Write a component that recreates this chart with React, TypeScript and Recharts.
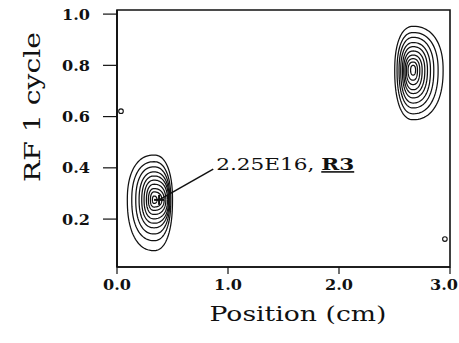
import { ScatterChart, Scatter, XAxis, YAxis, ReferenceLine, ReferenceDot, ReferenceArea, Label } from 'recharts'

const SERIF = '"DejaVu Serif", "Liberation Serif", serif'
const INK = '#111'

const xTicks = [0, 1, 2, 3]
const yTicks = [0.2, 0.4, 0.6, 0.8, 1.0]
const xDomain = [0, 3]
const yDomain = [0.013, 1.016]

// R3 peak near the entrance, outer ring first
const lowCenter = { x: 0.334, y: 0.275 }
const lowLeft = [0.093, 0.133, 0.169, 0.199, 0.223, 0.244, 0.265, 0.283, 0.301, 0.319]
const lowRight = [0.5, 0.485, 0.476, 0.47, 0.464, 0.455, 0.44, 0.425, 0.404, 0.36]
const lowTop = [0.45, 0.424, 0.404, 0.384, 0.368, 0.352, 0.336, 0.319, 0.306, 0.29]
const lowBottom = [0.077, 0.116, 0.142, 0.166, 0.184, 0.201, 0.218, 0.234, 0.247, 0.261]

// second peak near the far end
const highCenter = { x: 2.668, y: 0.781 }
const highLeft = [2.502, 2.523, 2.541, 2.556, 2.571, 2.583, 2.595, 2.607, 2.622, 2.645]
const highRight = [2.938, 2.893, 2.854, 2.824, 2.797, 2.773, 2.749, 2.728, 2.707, 2.69]
const highTop = [0.952, 0.928, 0.909, 0.889, 0.873, 0.856, 0.84, 0.826, 0.813, 0.8]
const highBottom = [0.588, 0.611, 0.634, 0.653, 0.673, 0.69, 0.705, 0.725, 0.742, 0.762]

// isolated single-level spots
const spotX = [0.036, 2.954]
const spotY = [0.621, 0.122]

const noteValue = '2.25E16, '
const noteTag = 'R3'
const noteFrom = { x: 0.867, y: 0.395 }
const noteTo = { x: 0.379, y: 0.275 }

type Pt = { x: number; y: number }

// closed outline through the four read-off extents of one contour level,
// a little squarer than an ellipse
function ring(c: Pt, left: number, right: number, top: number, bottom: number): Pt[] {
  const pts: Pt[] = []
  const n = 96
  const e = 0.88
  for (let k = 0; k <= n; k++) {
    const t = (2 * Math.PI * k) / n
    const cs = Math.cos(t)
    const sn = Math.sin(t)
    const u = Math.sign(cs) * Math.pow(Math.abs(cs), e)
    const v = Math.sign(sn) * Math.pow(Math.abs(sn), e)
    pts.push({
      x: c.x + (u >= 0 ? right - c.x : c.x - left) * u,
      y: c.y + (v >= 0 ? top - c.y : c.y - bottom) * v,
    })
  }
  return pts
}

const lowRings = lowLeft.map((l, i) => ring(lowCenter, l, lowRight[i], lowTop[i], lowBottom[i]))
const highRings = highLeft.map((l, i) => ring(highCenter, l, highRight[i], highTop[i], highBottom[i]))
const spots = spotX.map((x, i) => ({ x, y: spotY[i] }))

const blank = () => <g />

const spotShape = (p: any) => <circle cx={p.cx} cy={p.cy} r={2.3} fill="#fff" stroke={INK} strokeWidth={1.1} />

const XTick = (p: any) => (
  <text x={Math.min(p.x, 444)} y={p.y} dy="0.71em" textAnchor="middle" fontFamily={SERIF} fontWeight="bold"
    fontSize={14} fill={INK} textLength={28} lengthAdjust="spacingAndGlyphs">
    {Number(p.payload.value).toFixed(1)}
  </text>
)

const YTick = (p: any) => (
  <text x={p.x} y={p.y} dy="0.4em" textAnchor="end" fontFamily={SERIF} fontWeight="bold" fontSize={14}
    fill={INK} textLength={28} lengthAdjust="spacingAndGlyphs">
    {Number(p.payload.value).toFixed(1)}
  </text>
)

const XTitle = () => (
  <text x={298} y={321} textAnchor="middle" fontFamily={SERIF} fontSize={20} fill={INK}
    textLength={177} lengthAdjust="spacingAndGlyphs">
    Position (cm)
  </text>
)

const YTitle = () => (
  <text x={40} y={107} transform="rotate(-90 40 107)" textAnchor="middle" fontFamily={SERIF} fontSize={22}
    fill={INK} textLength={150} lengthAdjust="spacingAndGlyphs">
    RF 1 cycle
  </text>
)

const noteLabel = (p: any) => (
  <text x={p.cx + 3} y={p.cy + 1} fontFamily={SERIF} fontSize={16} fill={INK}
    textLength={138} lengthAdjust="spacingAndGlyphs">
    {noteValue}
    <tspan fontWeight="bold" textDecoration="underline">{noteTag}</tspan>
  </text>
)

const peakMark = (p: any) => (
  <g stroke={INK} strokeWidth={2}>
    <line x1={p.cx - 5} y1={p.cy} x2={p.cx + 5} y2={p.cy} />
    <line x1={p.cx} y1={p.cy - 5} x2={p.cx} y2={p.cy + 5} />
  </g>
)

export default function App() {
  return (
    <div style={{ position: 'absolute', left: 0, top: 0, width: 459, height: 343, background: '#fff' }}>
      <ScatterChart width={459} height={343} margin={{ top: 10, right: 9, bottom: 46, left: 57 }}>
        <XAxis type="number" dataKey="x" domain={xDomain} ticks={xTicks} height={30} tickSize={7} tickMargin={6}
          axisLine={{ stroke: INK, strokeWidth: 1.6 }} tickLine={{ stroke: INK, strokeWidth: 1.2 }} tick={<XTick />}
          allowDataOverflow>
          <Label content={<XTitle />} />
        </XAxis>
        <YAxis type="number" dataKey="y" domain={yDomain} ticks={yTicks} width={60} tickSize={14} tickMargin={13}
          axisLine={{ stroke: INK, strokeWidth: 1.8 }} tickLine={{ stroke: INK, strokeWidth: 1.2 }} tick={<YTick />}
          allowDataOverflow>
          <Label content={<YTitle />} />
        </YAxis>
        <ReferenceArea x1={xDomain[0]} x2={xDomain[1]} y1={yDomain[0]} y2={yDomain[1]} fill="none" fillOpacity={0}
          stroke={INK} strokeWidth={1.6} />
        {lowRings.map((pts, i) => (
          <Scatter key={'low' + i} data={pts} line={{ stroke: INK, strokeWidth: 1.25 }} lineType="joint"
            shape={blank} isAnimationActive={false} />
        ))}
        {highRings.map((pts, i) => (
          <Scatter key={'high' + i} data={pts} line={{ stroke: INK, strokeWidth: 1.25 }} lineType="joint"
            shape={blank} isAnimationActive={false} />
        ))}
        <Scatter data={spots} shape={spotShape} isAnimationActive={false} />
        <ReferenceLine segment={[noteFrom, noteTo]} stroke={INK} strokeWidth={1.5} />
        <ReferenceDot x={noteTo.x} y={noteTo.y} shape={peakMark} />
        <ReferenceDot x={noteFrom.x} y={noteFrom.y} shape={noteLabel} />
      </ScatterChart>
    </div>
  )
}
